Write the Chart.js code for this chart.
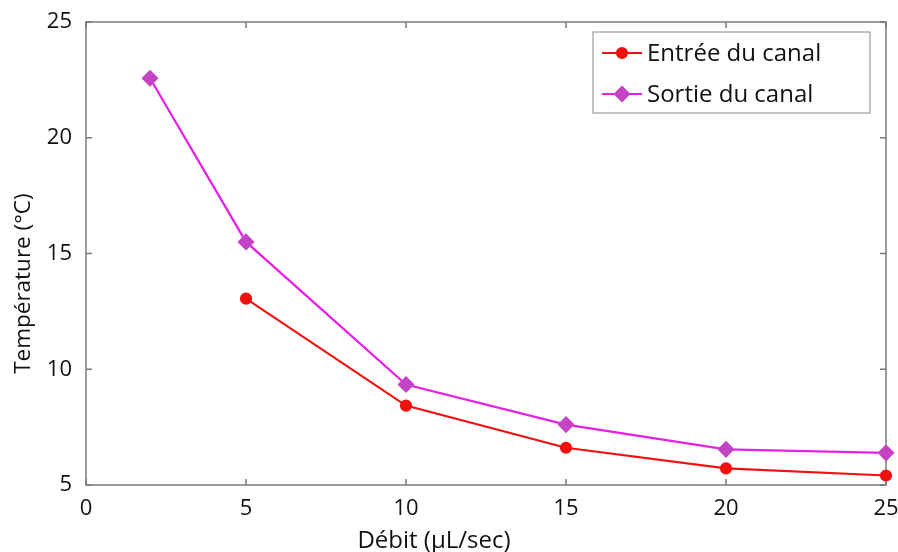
<!DOCTYPE html>
<html>
<head>
<meta charset="utf-8">
<script src="https://cdn.jsdelivr.net/npm/chart.js@4"></script>
<style>
  html, body { margin: 0; padding: 0; background: #fff; }
  #wrap { width: 898px; height: 552px; }
</style>
</head>
<body>
<div id="wrap"><canvas id="tempChart" width="898" height="552"></canvas></div>
<script>
// Débit (µL/sec) on x, température (°C) on y
const flowRates = [2, 5, 10, 15, 20, 25];
const entreeTemp = [null, 13.05, 8.43, 6.61, 5.72, 5.41];
const sortieTemp = [22.57, 15.5, 9.34, 7.61, 6.54, 6.39];
const xTicks = [0, 5, 10, 15, 20, 25];
const yTicks = [5, 10, 15, 20, 25];
const xTitle = 'Débit (µL/sec)';
const yTitle = 'Température (°C)';

const FONT = "'Open Sans', 'DejaVu Sans', sans-serif";
const AXIS_GREY = '#7a7a7a';

const toPoints = vals => flowRates
    .map((x, i) => ({ x: x, y: vals[i] }))
    .filter(p => p.y !== null);

// box around the plot + small inward tick marks on all four sides
const frame = {
    id: 'frame',
    beforeDatasetsDraw(chart) {
        const { ctx, chartArea: a, scales } = chart;
        ctx.save();
        ctx.strokeStyle = AXIS_GREY;
        ctx.lineWidth = 1.5;
        ctx.strokeRect(a.left, a.top, a.right - a.left, a.bottom - a.top);
        const len = 6;
        ctx.beginPath();
        xTicks.forEach(v => {
            const px = scales.x.getPixelForValue(v);
            ctx.moveTo(px, a.bottom); ctx.lineTo(px, a.bottom - len);
            ctx.moveTo(px, a.top); ctx.lineTo(px, a.top + len);
        });
        yTicks.forEach(v => {
            const py = scales.y.getPixelForValue(v);
            ctx.moveTo(a.left, py); ctx.lineTo(a.left + len, py);
            ctx.moveTo(a.right, py); ctx.lineTo(a.right - len, py);
        });
        ctx.stroke();

        // axis titles sit a little off-centre in the original
        ctx.fillStyle = '#111';
        ctx.textAlign = 'center';
        ctx.font = '24px ' + FONT;
        ctx.textBaseline = 'alphabetic';
        ctx.fillText(xTitle, a.left + (a.right - a.left) * 0.435, 548);
        ctx.translate(24, a.top + (a.bottom - a.top) * 0.565);
        ctx.rotate(-Math.PI / 2);
        ctx.font = '22.5px ' + FONT;
        ctx.textBaseline = 'middle';
        ctx.fillText(yTitle, 0, 0);
        ctx.restore();
    }
};

// matlab style legend box in the upper right corner
const legendBox = {
    id: 'legendBox',
    afterDraw(chart) {
        const { ctx, chartArea: a } = chart;
        const w = 277, h = 81;
        const left = a.right - 16 - w, top = a.top + 10;
        ctx.save();
        ctx.fillStyle = '#fff';
        ctx.fillRect(left, top, w, h);
        ctx.strokeStyle = '#8a8a8a';
        ctx.lineWidth = 1;
        ctx.strokeRect(left, top, w, h);
        chart.data.datasets.forEach((ds, i) => {
            const y = top + 21 + i * 41;
            ctx.strokeStyle = ds.borderColor;
            ctx.lineWidth = 2.2;
            ctx.beginPath();
            ctx.moveTo(left + 9, y);
            ctx.lineTo(left + 49, y);
            ctx.stroke();
            ctx.fillStyle = ds.pointBackgroundColor;
            ctx.strokeStyle = ds.pointBorderColor;
            Chart.helpers.drawPoint(ctx, {
                pointStyle: ds.pointStyle, radius: ds.pointRadius,
                rotation: 0, borderWidth: 1
            }, left + 29, y);
            ctx.fillStyle = '#111';
            ctx.font = '24px ' + FONT;
            ctx.textBaseline = 'middle';
            ctx.fillText(ds.label, left + 54, y + 1);
        });
        ctx.restore();
    }
};

new Chart(document.getElementById('tempChart'), {
    type: 'line',
    data: {
        datasets: [
            {
                label: 'Entrée du canal',
                data: toPoints(entreeTemp),
                borderColor: '#f01010',
                borderWidth: 2.2,
                pointStyle: 'circle',
                pointRadius: 5,
                pointBackgroundColor: '#f01010',
                pointBorderColor: '#f01010',
                clip: false,
                tension: 0
            },
            {
                label: 'Sortie du canal',
                data: toPoints(sortieTemp),
                borderColor: '#e61ee6',
                borderWidth: 2.2,
                pointStyle: 'rectRot',
                pointRadius: 7,
                pointBackgroundColor: '#c444c4',
                pointBorderColor: '#c444c4',
                clip: false,
                tension: 0
            }
        ]
    },
    options: {
        responsive: false,
        animation: false,
        layout: { padding: { left: 0, top: 22, right: 12, bottom: 0 } },
        plugins: {
            legend: { display: false },
            tooltip: { enabled: false }
        },
        scales: {
            x: {
                type: 'linear',
                min: 0,
                max: 25,
                afterBuildTicks: s => { s.ticks = xTicks.map(v => ({ value: v })); },
                afterFit: s => { s.height = 67; s.paddingLeft = 0; s.paddingRight = 0; },
                grid: { drawOnChartArea: false, drawTicks: false },
                border: { display: false },
                ticks: { color: '#111', padding: 11, font: { family: FONT, size: 22 } }
            },
            y: {
                type: 'linear',
                min: 5,
                max: 25,
                afterBuildTicks: s => { s.ticks = yTicks.map(v => ({ value: v })); },
                afterFit: s => { s.width = 86; s.paddingTop = 0; s.paddingBottom = 0; },
                grid: { drawOnChartArea: false, drawTicks: false },
                border: { display: false },
                ticks: { color: '#111', padding: 14, font: { family: FONT, size: 22 } }
            }
        }
    },
    plugins: [frame, legendBox]
});
</script>
</body>
</html>
